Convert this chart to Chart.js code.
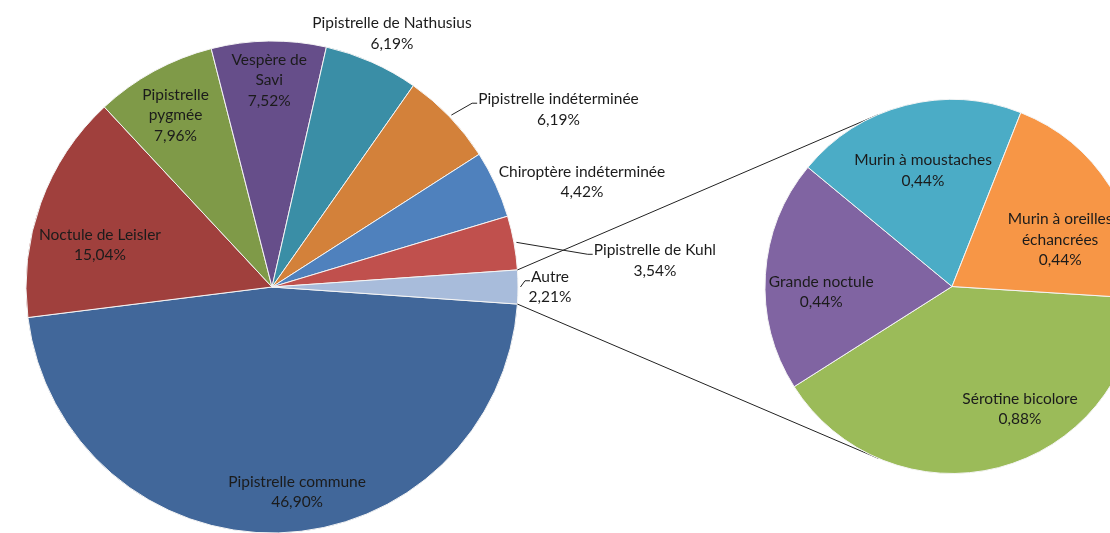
<!DOCTYPE html>
<html>
<head>
<meta charset="utf-8">
<script src="https://cdn.jsdelivr.net/npm/chart.js@4"></script>
<style>
body { margin: 0; background: #fff; }
#wrap { position: relative; width: 1110px; height: 533px; overflow: hidden; }
#wrap canvas { position: absolute; left: 0; top: 0; }
</style>
</head>
<body>
<div id="wrap">
<canvas id="mainPie" width="1110" height="533"></canvas>
<canvas id="subPie" width="1110" height="533"></canvas>
</div>
<script>
// données du camembert principal
var mainLabels = ['Pipistrelle commune', 'Noctule de Leisler', 'Pipistrelle pygmée', 'Vespère de Savi',
    'Pipistrelle de Nathusius', 'Pipistrelle indéterminée', 'Chiroptère indéterminée', 'Pipistrelle de Kuhl', 'Autre'];
var mainValues = [46.90, 15.04, 7.96, 7.52, 6.19, 6.19, 4.42, 3.54, 2.21];

// détail de "Autre"
var subLabels = ['Sérotine bicolore', 'Grande noctule', 'Murin à moustaches', 'Murin à oreilles échancrées'];
var subValues = [0.88, 0.44, 0.44, 0.44];

var mainColors = ['#41679a', '#a0403d', '#7f9a48', '#664e8a', '#3a8ea6', '#d3813a', '#4f81bd', '#c0504d', '#a8bcdb'];
var subColors = ['#9bbb59', '#8064a2', '#4bacc6', '#f79646'];

// placement des étiquettes : [facteur du rayon, décalage d'angle en degrés]
var mainLabelPos = [[0.84, -5.4], [0.72, -6.2], [0.80, -0.7], [0.84, 0], [1.14, 1.4], [1.37, 12], [1.33, 6], [1.56, 6.4], [1.13, 0]];
var mainWrap = [0, 0, 85, 85, 0, 0, 0, 0, 0];
var mainLeaders = [5, 7, 8];
var subLabelPos = [[0.75, -14.6], [0.70, -6], [0.64, 0.4], [0.63, 9]];
var subWrap = [0, 0, 0, 125];

var FONT = '15.5px Lato';
var LINE_H = 20.5;

function fmtPct(v) {
    return v.toFixed(2).replace('.', ',') + '%';
}

function wrapText(ctx, text, maxW) {
    if (!maxW) return [text];
    var words = text.split(' ');
    var lines = [];
    var cur = '';
    words.forEach(function(w) {
        var t = cur ? cur + ' ' + w : w;
        if (cur && ctx.measureText(t).width > maxW) {
            lines.push(cur);
            cur = w;
        } else {
            cur = t;
        }
    });
    lines.push(cur);
    return lines;
}

function drawLabels(chart, posList, wrapList, leaders) {
    var ctx = chart.ctx;
    var meta = chart.getDatasetMeta(0);
    var values = chart.data.datasets[0].data;
    ctx.save();
    ctx.font = FONT;
    ctx.fillStyle = '#1b1b1b';
    ctx.strokeStyle = '#222';
    ctx.lineWidth = 1;
    ctx.textAlign = 'center';
    ctx.textBaseline = 'middle';
    meta.data.forEach(function(arc, i) {
        var p = arc.getProps(['x', 'y', 'startAngle', 'endAngle', 'outerRadius'], true);
        var mid = (p.startAngle + p.endAngle) / 2;
        var a = mid + posList[i][1] * Math.PI / 180;
        var r = p.outerRadius * posList[i][0];
        var cx = p.x + r * Math.cos(a);
        var cy = p.y + r * Math.sin(a);
        var lines = wrapText(ctx, chart.data.labels[i], wrapList[i]);
        lines.push(fmtPct(values[i]));
        var top = cy - (lines.length - 1) * LINE_H / 2;
        lines.forEach(function(t, k) {
            ctx.fillText(t, cx, top + k * LINE_H);
        });
        if (leaders && leaders.indexOf(i) >= 0) {
            // trait de rappel vers la part
            var w = ctx.measureText(lines[0]).width;
            var ex = cx - w / 2 - 1;
            var ey = top + 4;
            var sx = p.x + p.outerRadius * 1.01 * Math.cos(mid);
            var sy = p.y + p.outerRadius * 1.01 * Math.sin(mid);
            ctx.beginPath();
            ctx.moveTo(sx, sy);
            ctx.lineTo(ex - 5, ey);
            ctx.lineTo(ex, ey);
            ctx.stroke();
        }
    });
    ctx.restore();
}

var mainChart = new Chart(document.getElementById('mainPie').getContext('2d'), {
    type: 'pie',
    data: {
        labels: mainLabels,
        datasets: [{
            data: mainValues,
            backgroundColor: mainColors,
            borderColor: '#f4f4f4',
            borderWidth: 1
        }]
    },
    options: {
        responsive: false,
        animation: false,
        // "Autre" centré à droite, comme dans Excel
        rotation: 90 + mainValues[mainValues.length - 1] / 2 / mainValues.reduce(function(s, v) { return s + v; }, 0) * 360,
        radius: 246,
        layout: { padding: { left: 26, right: 592, top: 41, bottom: 0 } },
        plugins: { legend: { display: false }, tooltip: { enabled: false } }
    },
    plugins: [{
        id: 'mainLabels',
        afterDatasetsDraw: function(chart) {
            drawLabels(chart, mainLabelPos, mainWrap, mainLeaders);
        }
    }]
});

var subChart = new Chart(document.getElementById('subPie').getContext('2d'), {
    type: 'pie',
    data: {
        labels: subLabels,
        datasets: [{
            data: subValues,
            backgroundColor: subColors,
            borderColor: '#f4f4f4',
            borderWidth: 1
        }]
    },
    options: {
        responsive: false,
        animation: false,
        rotation: 93.6,
        radius: 187,
        layout: { padding: { left: 800, right: 6, top: 100, bottom: 60 } },
        plugins: { legend: { display: false }, tooltip: { enabled: false } }
    },
    plugins: [{
        id: 'connectors',
        beforeDatasetsDraw: function(chart) {
            // lignes de liaison entre "Autre" et le second camembert
            var autre = mainChart.getDatasetMeta(0).data[mainValues.length - 1];
            var p = autre.getProps(['x', 'y', 'startAngle', 'endAngle', 'outerRadius'], true);
            var s = chart.getDatasetMeta(0).data[0].getProps(['x', 'y', 'outerRadius'], true);
            var ctx = chart.ctx;
            ctx.save();
            ctx.strokeStyle = '#222';
            ctx.lineWidth = 1;
            [[p.startAngle, 1], [p.endAngle, -1]].forEach(function(e) {
                var px = p.x + p.outerRadius * Math.cos(e[0]);
                var py = p.y + p.outerRadius * Math.sin(e[0]);
                var d = Math.hypot(px - s.x, py - s.y);
                var phi = Math.atan2(py - s.y, px - s.x);
                var t = phi + e[1] * Math.acos(s.outerRadius / d);
                ctx.beginPath();
                ctx.moveTo(px, py);
                ctx.lineTo(s.x + s.outerRadius * Math.cos(t), s.y + s.outerRadius * Math.sin(t));
                ctx.stroke();
            });
            ctx.restore();
        },
        afterDatasetsDraw: function(chart) {
            drawLabels(chart, subLabelPos, subWrap, null);
        }
    }]
});
</script>
</body>
</html>
